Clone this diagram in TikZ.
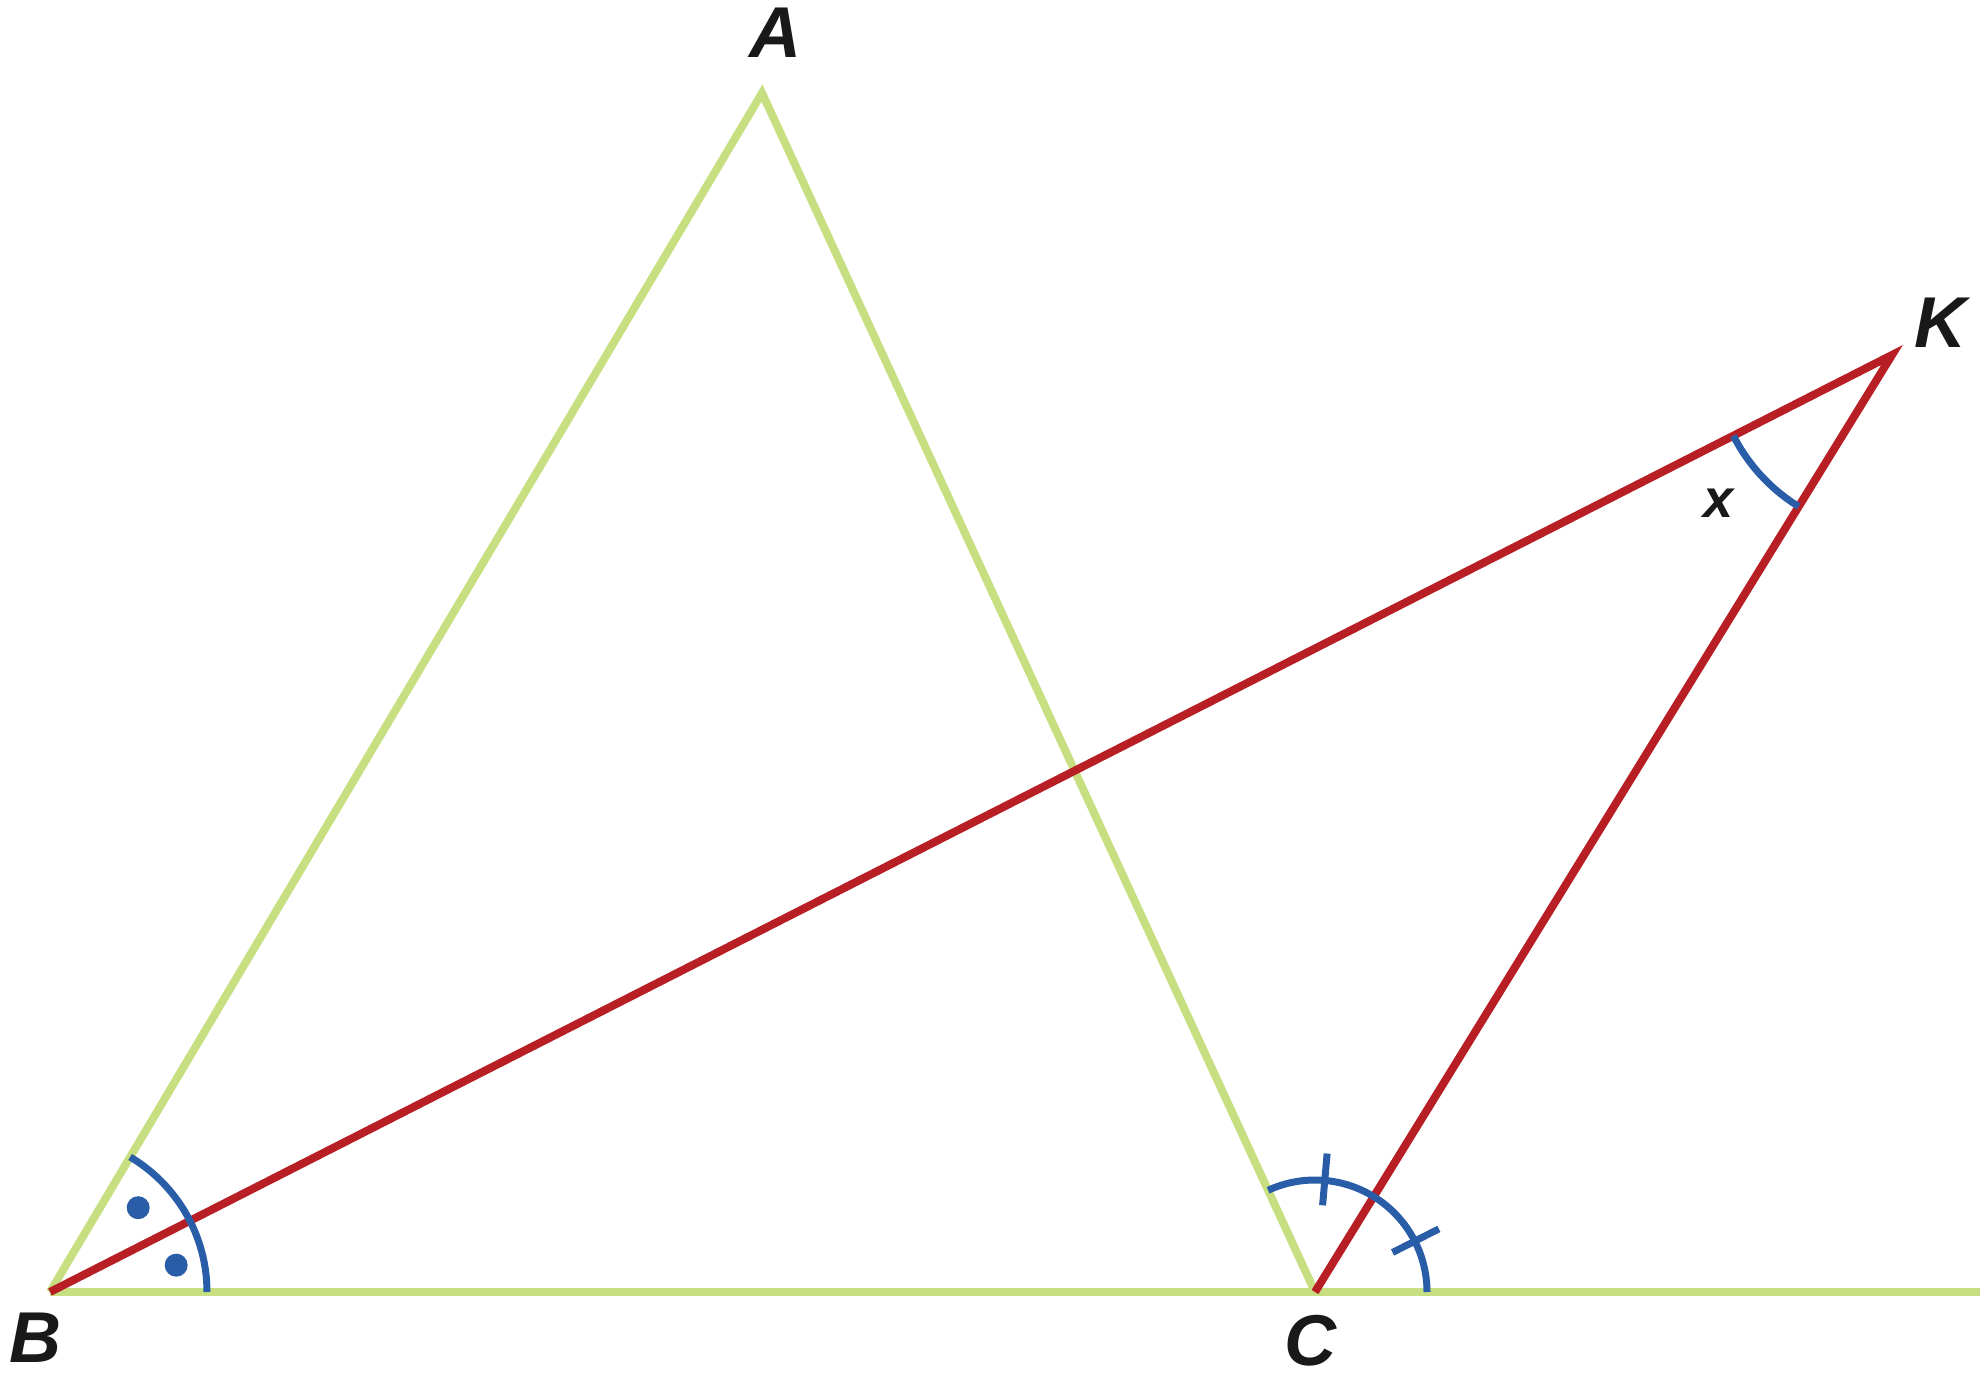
\documentclass[tikz,border=0pt]{standalone}
\usepackage{fontspec}
\setmainfont{Liberation Sans}
\usetikzlibrary{angles,calc}
\definecolor{lgreen}{HTML}{C7DF80}
\definecolor{dred}{HTML}{B71F25}
\definecolor{mblue}{HTML}{2A5DA8}
\tikzset{
  greenline/.style={draw=lgreen,line width=8pt},
  redline/.style={draw=dred,line width=8pt},
  bluemark/.style={draw=mblue,line width=7pt},
  ptlabel/.style={font=\fontsize{72}{72}\selectfont\bfseries\itshape,text=black!90,inner sep=0pt},
  smalllabel/.style={font=\fontsize{54}{54}\selectfont\bfseries\itshape,text=black!90,inner sep=0pt},
  dotmark/.style={fill=mblue,draw=none}
}
\begin{document}
\begin{tikzpicture}[x=1pt,y=1pt]
\useasboundingbox (0,0) rectangle (1980,1383);
\coordinate (A) at (762,1290);
\coordinate (B) at (50,91);
\coordinate (C) at (1315,91);
\coordinate (K) at (1892,1028);
\coordinate (E) at (1980,91);
% green triangle and base line
\draw[greenline] (B) -- (E);
\draw[greenline] (B) -- (A) -- (C);
% red lines
\draw[redline] (B) -- (K) -- (C);
% angle marks
\pic[bluemark, angle radius=157pt] {angle = C--B--A};
\pic[bluemark, angle radius=112pt] {angle = E--C--A};
\pic[bluemark, angle radius=178pt] {angle = B--K--C};
% dots at B
\fill[dotmark] ($(B)+(43.7:122pt)$) circle[radius=11.5pt];
\fill[dotmark] ($(B)+(12:129pt)$) circle[radius=11.5pt];
% ticks at C
\coordinate (T1a) at ($(C)+(85:87pt)$);
\coordinate (T1b) at ($(C)+(85:139pt)$);
\coordinate (T2a) at ($(C)+(27:87pt)$);
\coordinate (T2b) at ($(C)+(27:139pt)$);
\draw[bluemark] (T1a) -- (T1b);
\draw[bluemark] (T2a) -- (T2b);
% labels
\node[ptlabel] (LA) at (775,1350) {A};
\node[ptlabel] (LB) at (35,45) {B};
\node[ptlabel] (LC) at (1310,42) {C};
\node[ptlabel] (LK) at (1940,1060) {K};
\node[smalllabel] (Lx) at (1718,880) {x};
\end{tikzpicture}
\end{document}
